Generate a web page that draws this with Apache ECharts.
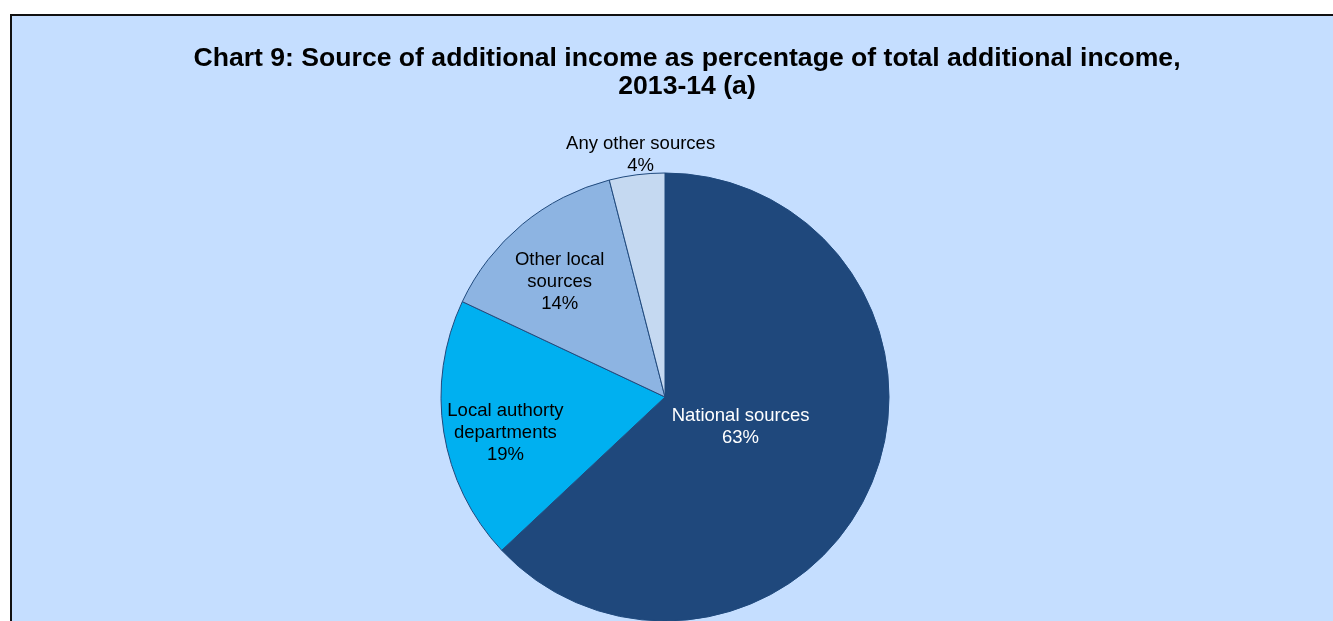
<!DOCTYPE html>
<html>
<head>
<meta charset="utf-8">
<script src="https://cdn.jsdelivr.net/npm/echarts@6/dist/echarts.min.js"></script>
<style>
  html, body { margin: 0; padding: 0; background: #ffffff; width: 1333px; height: 621px; overflow: hidden; }
  #bg { position: absolute; left: 10px; top: 14px; width: 1340px; height: 620px; background: #C5DEFF; border-left: 2px solid #111; border-top: 2px solid #111; }
  #chart { position: absolute; left: 0; top: 0; width: 1333px; height: 621px; }
</style>
</head>
<body>
<div id="bg"></div>
<div id="chart"></div>
<script>
const categories = ['National sources', 'Local authorty\ndepartments', 'Other local\nsources', 'Any other sources'];
const values = [63, 19, 14, 4];
const colors = ['#1F487C', '#00B0F0', '#8DB4E2', '#C5D9F1'];
const labelColors = ['#ffffff', '#000000', '#000000', '#000000'];
const labelOffsets = [[-30, -16], [-46, 18], [-32, -26], [-10, -128]];

const chart = echarts.init(document.getElementById('chart'), null, { renderer: 'canvas' });
chart.setOption({
  backgroundColor: 'transparent',
  animation: false,
  title: {
    text: 'Chart 9: Source of additional income as percentage of total additional income,\n2013-14 (a)',
    left: 682,
    top: 40,
    textAlign: 'center',
    textStyle: {
      fontFamily: 'Liberation Sans, Arial, sans-serif',
      fontWeight: 'bold',
      fontSize: 26.6,
      lineHeight: 28,
      color: '#000000'
    }
  },
  series: [{
    type: 'pie',
    center: [665, 397],
    radius: 224,
    startAngle: 90,
    clockwise: true,
    avoidLabelOverlap: false,
    labelLine: { show: false },
    itemStyle: { borderColor: '#1F497D', borderWidth: 1 },
    label: {
      show: true,
      position: 'inside',
      formatter: '{b}\n{c}%',
      fontFamily: 'Liberation Sans, Arial, sans-serif',
      fontSize: 18.5,
      lineHeight: 22,
      align: 'center'
    },
    emphasis: { disabled: true },
    data: categories.map((name, i) => ({
      name: name,
      value: values[i],
      itemStyle: { color: colors[i] },
      label: { color: labelColors[i], offset: labelOffsets[i] }
    }))
  }]
});
</script>
</body>
</html>
